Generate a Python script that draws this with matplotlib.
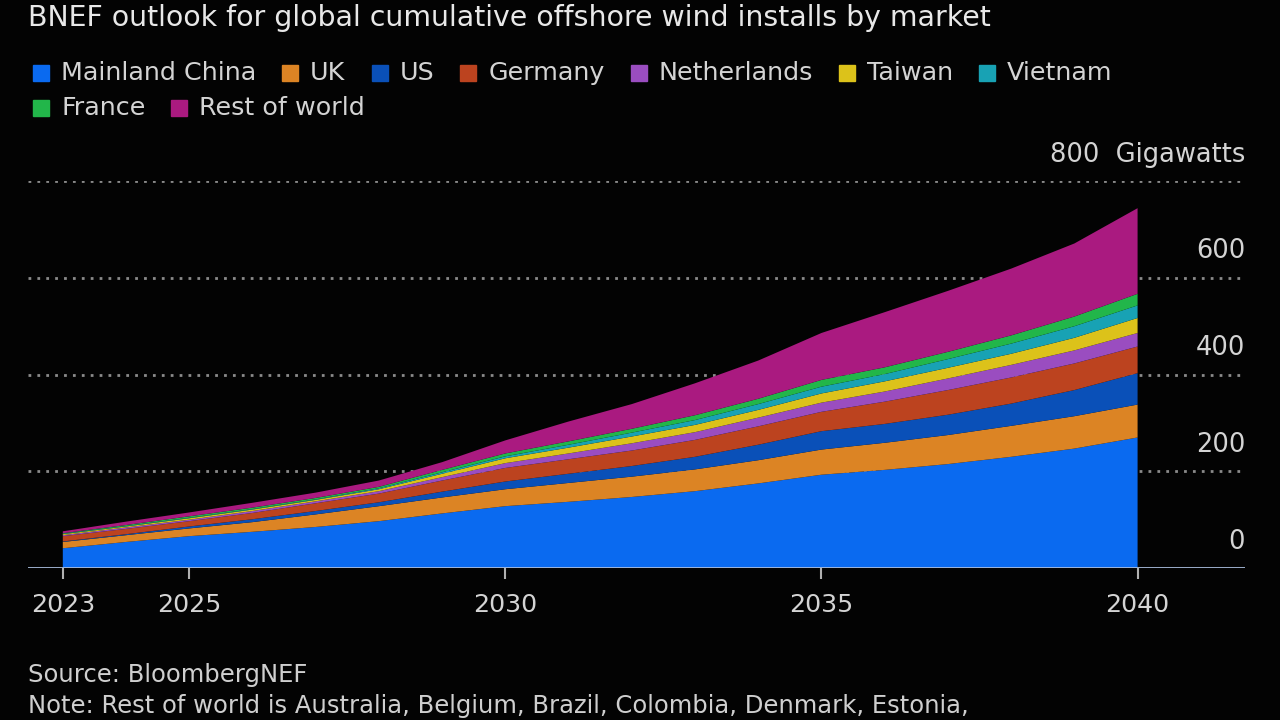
import matplotlib
matplotlib.use("Agg")
import matplotlib.pyplot as plt
import matplotlib.transforms as mtransforms
from matplotlib.patches import Rectangle

plt.rcParams["font.family"] = ["DejaVu Sans"]

# data (GW, cumulative installs)
years = list(range(2023, 2041))
markets = ["Mainland China", "UK", "US", "Germany", "Netherlands",
           "Taiwan", "Vietnam", "France", "Rest of world"]
china = [41, 54, 66, 75, 85, 97, 113, 128, 137, 147, 159, 175, 193, 203, 215, 230, 247, 270]
uk = [13, 14, 16, 20, 26, 31, 33, 35, 39, 42, 45, 48, 52, 56, 60, 64, 67, 68]
us = [1, 2, 4, 6, 7, 8, 12, 16, 19, 22, 26, 32, 38, 39, 42, 46, 54, 65]
germany = [11, 11, 11, 13, 16, 18, 23, 28, 30, 32, 35, 38, 40, 46, 51, 54, 55, 55]
netherlands = [2, 3, 3, 4, 4, 5, 7, 10, 12, 15, 16, 18, 19, 21, 24, 26, 27, 28]
taiwan = [2, 2, 3, 3, 3, 4, 7, 10, 12, 14, 15, 16, 19, 21, 22, 23, 26, 31]
vietnam = [1, 1, 1, 1, 1, 2, 3, 4, 6, 8, 10, 12, 14, 15, 18, 21, 24, 26]
france = [1, 2, 3, 3, 3, 3, 5, 6, 7, 8, 10, 11, 14, 14, 15, 17, 20, 24]
rest = [4, 7, 8, 10, 11, 13, 16, 27, 41, 51, 66, 79, 97, 114, 126, 138, 151, 177]
series = [china, uk, us, germany, netherlands, taiwan, vietnam, france, rest]

xticks = [2023, 2025, 2030, 2035, 2040]
yticks = [0, 200, 400, 600, 800]
unit = "Gigawatts"

title = "BNEF outlook for global cumulative offshore wind installs by market"
source = "Source: BloombergNEF"
note = "Note: Rest of world is Australia, Belgium, Brazil, Colombia, Denmark, Estonia,"

colors = ["#0a6af0", "#dc8424", "#0a50b8", "#bc431f", "#9a4dc0",
          "#dcc21a", "#18a2b4", "#22b64a", "#aa1a80"]

bg = "#030303"
fig = plt.figure(figsize=(12.8, 7.2), dpi=100, facecolor=bg)
ax = fig.add_axes([0.0219, 0.211, 0.9508, 0.5375], facecolor=bg)

ax.stackplot(years, *series, colors=colors, linewidth=0, zorder=2)

ax.set_xlim(2022.45, 2041.7)
ax.set_ylim(0, 800)

# dotted grid, drawn under the areas
for v in yticks[1:]:
    ax.axhline(v, color="#8a8a8a", lw=2, linestyle=(0, (1, 2.2)), zorder=1)
ax.axhline(0, color="#a9bddc", lw=2, zorder=3)

# y labels sit on the right, above their gridline
trans = mtransforms.blended_transform_factory(ax.transAxes, ax.transData)
off = mtransforms.offset_copy(trans, fig=fig, x=0, y=14, units="points")
for v in yticks:
    lab = f"{v}  {unit}" if v == yticks[-1] else f"{v}"
    ax.text(1.0, v, lab, transform=off, ha="right", va="baseline",
            fontsize=18.5, color="#d4d4d4", clip_on=False)

ax.set_yticks([])
ax.set_xticks(xticks)
ax.set_xticklabels([str(t) for t in xticks])
ax.tick_params(axis="x", length=8, width=1.5, color="#b0b0b0", pad=10,
               labelsize=18.2, labelcolor="#d4d4d4")
for s in ax.spines.values():
    s.set_visible(False)

# header and footer
fig.text(28 / 1280, 1 - 18 / 720, title, ha="left", va="center",
         fontsize=20.4, color="#e8e8e8")
fig.text(28 / 1280, 1 - 675 / 720, source, ha="left", va="center",
         fontsize=17.5, color="#cfcfcf")
fig.text(28 / 1280, 1 - 706 / 720, note, ha="left", va="center",
         fontsize=17.5, color="#cfcfcf")

# legend, laid out left to right and wrapped
renderer = fig.canvas.get_renderer()
W, H = 1280, 720
x, row_y = 33, 73
sq = 16
for name, c in zip(markets, colors):
    t = fig.text(0, 0, name, fontsize=18.3, color="#d4d4d4", va="center", ha="left")
    tw = t.get_window_extent(renderer).width
    if x + sq + 12 + tw > 1180:
        x = 33
        row_y += 35
    fig.patches.append(Rectangle((x / W, 1 - (row_y + sq / 2) / H), sq / W, sq / H,
                                 transform=fig.transFigure, color=c, figure=fig))
    t.set_position(((x + sq + 12) / W, 1 - row_y / H))
    x += sq + 12 + tw + 26

fig.savefig("out.png", dpi=100, facecolor=bg)
